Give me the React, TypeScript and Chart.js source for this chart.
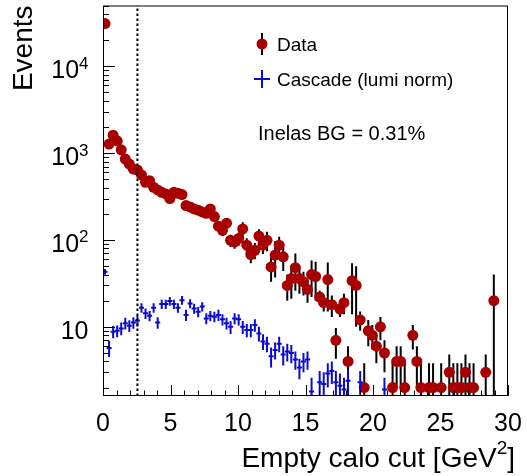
import { useEffect, useRef } from 'react';
import { Chart, registerables } from 'chart.js';

Chart.register(...registerables);

// ---------------- data ----------------
const BIN_WIDTH = 0.3;
const X_MIN = 0;
const X_MAX = 30;
const Y_MIN = 1.6;
const Y_MAX = 50000;
const CUT_VALUE = 2.55;

const xTickValues = [0, 5, 10, 15, 20, 25, 30];
const xTickLabels = ['0', '5', '10', '15', '20', '25', '30'];
const yTickValues = [10, 100, 1000, 10000];
const yTickBases = ['10', '10', '10', '10'];
const yTickExps = ['', '2', '3', '4'];

const xTitleMain = 'Empty calo cut [GeV';
const xTitleSup = '2';
const xTitleEnd = ']';
const yTitle = 'Events';
const dataLabel = 'Data';
const cascadeLabel = 'Cascade (lumi norm)';
const noteText = 'Inelas BG = 0.31%';

// "Data" per 0.3 GeV^2 bin (null = empty bin)
const dataValues: (number | null)[] = [
  31000, 1270, 1610, 1380, 1090, 853, 748, 656, 639, 560,
  461, 482, 404, 377, 354, 339, 300, 354, 345, 333,
  249, 240, 228, 220, 210, 203, 228, 186, 144, 129,
  156, 99, 95, 104, 134, 87, 68, 76, 111, 87,
  99, 49, 67, 87, 64, 30, 36, 48, 36, 33,
  27, 40, 38, 22, 19, 35, 18, 7, 16, 19,
  4, 34, 30, 12, 2, 9, 8, 6, 10, 5,
  null, 2, 4, 4, 2, null, 8, 4, 2, null,
  2, 2, null, 2, null, 3, 2, 2, 2, 3,
  2, 2, null, null, 3, null, 20, null, null, null,
];
const dataErrors: (number | null)[] = [
  180, 38, 42, 38, 34, 30, 28, 26, 26, 25,
  22, 23, 22, 22, 22, 22, 20, 24, 24, 24,
  20, 20, 20, 20, 20, 20, 22, 20, 18, 18,
  20, 16, 16, 18, 26, 18, 14, 16, 22, 18,
  25, 16, 30, 22, 20, 10, 15, 22, 12, 10,
  8, 18, 18, 4, 4, 20, 5, 2.7, 3, 5,
  2, 20, 20, 3, 1.8, 3, 2.5, 2.2, 3, 2,
  null, 1.8, 2, 2, 1.8, null, 2.5, 2, 1.8, null,
  1.8, 1.8, null, 1.8, null, 1.8, 1.8, 1.8, 1.8, 1.8,
  1.8, 1.8, null, null, 1.8, null, 20, null, null, null,
];

// "Cascade (lumi norm)" per bin
const cascadeValues: (number | null)[] = [
  43, 5.7, 8.8, 9.0, 9.6, 11, 10.3, 11.2, 11.8, 16.6,
  14.3, 13.4, 16.6, 11.2, 18.3, 18.3, 19.8, 18.3, 16.6, 20.3,
  13.7, 18.6, 16.3, 14.9, 17.1, 12.5, 13.4, 13.1, 13.7, 12.2,
  11, 10, 12.5, 12.2, 10, 9.2, 9.2, 10.5, 8.4, 6.8,
  6.4, 4.6, 5.4, 6.4, 4.8, 5.2, 5.0, 4.2, 3.4, 4.0,
  4.2, 1.8, null, 2.3, 2.2, 2.9, 3.1, 2.3, 2.1, 1.9,
  2.4, null, null, 2.3, null, null, null, null, null, 1.9,
];
const cascadeErrors: (number | null)[] = [
  3.2, 1.2, 1.4, 1.4, 1.6, 1.7, 1.6, 1.7, 1.7, 2.1,
  2.0, 1.8, 2.1, 1.7, 2.2, 2.2, 2.3, 2.2, 2.1, 2.3,
  2.0, 2.2, 2.1, 2.0, 2.1, 1.8, 1.8, 1.8, 2.0, 1.8,
  1.7, 1.7, 1.8, 1.8, 1.7, 1.6, 1.6, 1.7, 1.6, 1.4,
  1.3, 1.2, 1.2, 1.3, 1.2, 1.2, 1.2, 1.0, 0.9, 1.0,
  1.0, 0.8, null, 0.8, 0.8, 0.9, 0.9, 0.8, 0.8, 0.7,
  0.8, null, null, 0.8, null, null, null, null, null, 0.7,
];

// ---------------- style ----------------
const RED = '#a80000';
const BLUE = '#0a0ad0';
const FONT = "'Liberation Sans', Arial, Helvetica, sans-serif";

type Pt = { x: number; y: number; e: number };

function toPoints(vals: (number | null)[], errs: (number | null)[]): Pt[] {
  const out: Pt[] = [];
  vals.forEach((v, i) => {
    if (v === null || v === undefined) return;
    out.push({ x: X_MIN + (i + 0.5) * BIN_WIDTH, y: v, e: errs[i] ?? 0 });
  });
  return out;
}

const rootPlugin = {
  id: 'rootStyle',
  beforeDatasetsDraw(chart: any) {
    const { ctx, chartArea: a, scales } = chart;
    const xs = scales.x;
    const ys = scales.y;
    const pts: Pt[] = chart.data.datasets[0].data;
    ctx.save();
    ctx.beginPath();
    ctx.rect(a.left, a.top, a.right - a.left, a.bottom - a.top);
    ctx.clip();
    ctx.strokeStyle = '#000';
    ctx.lineWidth = 2;
    pts.forEach((p) => {
      const px = xs.getPixelForValue(p.x);
      const hi = ys.getPixelForValue(p.y + p.e);
      const lo = p.y - p.e > 0 ? ys.getPixelForValue(p.y - p.e) : a.bottom + 5;
      ctx.beginPath();
      ctx.moveTo(px, Math.min(lo, a.bottom + 5));
      ctx.lineTo(px, hi);
      ctx.stroke();
    });
    ctx.restore();
  },
  afterDatasetsDraw(chart: any) {
    const { ctx, chartArea: a, scales } = chart;
    const xs = scales.x;
    const ys = scales.y;
    const pts: Pt[] = chart.data.datasets[1].data;
    ctx.save();
    ctx.beginPath();
    ctx.rect(a.left, a.top, a.right - a.left, a.bottom - a.top);
    ctx.clip();
    ctx.strokeStyle = BLUE;
    ctx.lineWidth = 2;
    pts.forEach((p) => {
      const px = xs.getPixelForValue(p.x);
      const x0 = xs.getPixelForValue(p.x - BIN_WIDTH / 2);
      const x1 = xs.getPixelForValue(p.x + BIN_WIDTH / 2);
      const py = ys.getPixelForValue(p.y);
      const hi = ys.getPixelForValue(p.y + p.e);
      const lo = p.y - p.e > 0 ? ys.getPixelForValue(p.y - p.e) : a.bottom + 5;
      ctx.beginPath();
      ctx.moveTo(px, lo);
      ctx.lineTo(px, hi);
      ctx.moveTo(x0 - 0.5, py);
      ctx.lineTo(x1 + 0.5, py);
      ctx.stroke();
    });
    // dotted cut line
    const cx = xs.getPixelForValue(CUT_VALUE);
    ctx.strokeStyle = '#000';
    ctx.lineWidth = 2;
    ctx.setLineDash([2.5, 2.5]);
    ctx.beginPath();
    ctx.moveTo(cx, a.bottom);
    ctx.lineTo(cx, a.top);
    ctx.stroke();
    ctx.setLineDash([]);
    ctx.restore();
  },
  afterDraw(chart: any) {
    const { ctx, chartArea: a, scales } = chart;
    const xs = scales.x;
    const ys = scales.y;
    ctx.save();
    // frame
    ctx.strokeStyle = '#000';
    ctx.lineWidth = 1;
    ctx.strokeRect(a.left + 0.5, a.top + 0.5, a.right - a.left - 1, a.bottom - a.top - 1);

    // x ticks (inward)
    ctx.beginPath();
    for (let v = Math.ceil(X_MIN); v <= X_MAX; v += 1) {
      const px = Math.round(xs.getPixelForValue(v)) + 0.5;
      const len = v % 5 === 0 ? 11 : 5.5;
      ctx.moveTo(px, a.bottom);
      ctx.lineTo(px, a.bottom - len);
    }
    // y ticks (log, inward)
    for (let dec = 1; dec <= 10000; dec *= 10) {
      for (let m = 1; m <= 9; m++) {
        const v = dec * m;
        if (v < Y_MIN || v > Y_MAX) continue;
        const py = Math.round(ys.getPixelForValue(v)) + 0.5;
        const len = m === 1 ? 12 : 6;
        ctx.moveTo(a.left, py);
        ctx.lineTo(a.left + len, py);
      }
    }
    ctx.stroke();

    ctx.fillStyle = '#000';
    // x tick labels
    ctx.font = `25px ${FONT}`;
    ctx.textAlign = 'center';
    ctx.textBaseline = 'alphabetic';
    xTickValues.forEach((v, i) => {
      ctx.fillText(xTickLabels[i], xs.getPixelForValue(v), 431);
    });

    // y tick labels with superscripts
    const rightEdge = a.left - 14.5;
    yTickValues.forEach((v, i) => {
      const py = ys.getPixelForValue(v);
      const base = yTickBases[i];
      const exp = yTickExps[i];
      ctx.textAlign = 'left';
      ctx.font = `17px ${FONT}`;
      const ew = exp ? ctx.measureText(exp).width : 0;
      ctx.font = `25px ${FONT}`;
      const bw = ctx.measureText(base).width;
      const bx = rightEdge - ew - bw;
      ctx.fillText(base, bx, py + 12);
      if (exp) {
        ctx.font = `17px ${FONT}`;
        ctx.fillText(exp, bx + bw, py + 2.5);
      }
    });

    // x title
    ctx.font = `28px ${FONT}`;
    const w1 = ctx.measureText(xTitleMain).width;
    const w3 = ctx.measureText(xTitleEnd).width;
    ctx.font = `19px ${FONT}`;
    const w2 = ctx.measureText(xTitleSup).width;
    const tRight = a.right + 7;
    const tStart = tRight - w1 - w2 - w3;
    ctx.textAlign = 'left';
    ctx.font = `28px ${FONT}`;
    ctx.fillText(xTitleMain, tStart, 467);
    ctx.fillText(xTitleEnd, tStart + w1 + w2, 467);
    ctx.font = `19px ${FONT}`;
    ctx.fillText(xTitleSup, tStart + w1, 454);

    // y title
    ctx.save();
    ctx.translate(32, a.top);
    ctx.rotate(-Math.PI / 2);
    ctx.font = `28px ${FONT}`;
    ctx.textAlign = 'right';
    ctx.fillText(yTitle, 0, 0);
    ctx.restore();

    // legend
    const lx = 262;
    const ly1 = 44;
    const ly2 = 79;
    ctx.strokeStyle = '#000';
    ctx.lineWidth = 2;
    ctx.beginPath();
    ctx.moveTo(lx, ly1 - 11);
    ctx.lineTo(lx, ly1 + 11);
    ctx.stroke();
    ctx.fillStyle = RED;
    ctx.beginPath();
    ctx.arc(lx, ly1, 5.5, 0, Math.PI * 2);
    ctx.fill();
    ctx.strokeStyle = BLUE;
    ctx.beginPath();
    ctx.moveTo(lx, ly2 - 9);
    ctx.lineTo(lx, ly2 + 9);
    ctx.moveTo(lx - 8, ly2);
    ctx.lineTo(lx + 8, ly2);
    ctx.stroke();
    ctx.fillStyle = '#000';
    ctx.font = `19px ${FONT}`;
    ctx.textAlign = 'left';
    ctx.fillText(dataLabel, 277, ly1 + 7);
    ctx.fillText(cascadeLabel, 277, ly2 + 7);
    ctx.font = `20px ${FONT}`;
    ctx.fillText(noteText, 258, 140);
    ctx.restore();
  },
};

export default function App() {
  const ref = useRef<HTMLCanvasElement | null>(null);
  useEffect(() => {
    if (!ref.current) return;
    const chart = new Chart(ref.current, {
      type: 'scatter',
      data: {
        datasets: [
          {
            label: dataLabel,
            data: toPoints(dataValues, dataErrors) as any,
            pointRadius: 5.5,
            pointHoverRadius: 5.5,
            pointBackgroundColor: RED,
            backgroundColor: RED,
            borderWidth: 0,
            pointBorderWidth: 0,
          },
          {
            label: cascadeLabel,
            data: toPoints(cascadeValues, cascadeErrors) as any,
            pointRadius: 0,
            pointHoverRadius: 0,
            backgroundColor: BLUE,
            borderWidth: 0,
          },
        ],
      },
      options: {
        responsive: false,
        animation: false,
        events: [],
        layout: { padding: { top: 4, right: 19, left: 0, bottom: 0 } },
        plugins: { legend: { display: false }, tooltip: { enabled: false } },
        scales: {
          x: {
            type: 'linear',
            min: X_MIN,
            max: X_MAX,
            grid: { display: false },
            border: { display: false },
            ticks: { display: false },
            afterFit: (s: any) => {
              s.height = 80;
            },
          },
          y: {
            type: 'logarithmic',
            min: Y_MIN,
            max: Y_MAX,
            grid: { display: false },
            border: { display: false },
            ticks: { display: false },
            afterFit: (s: any) => {
              s.width = 103;
            },
          },
        },
      },
      plugins: [rootPlugin],
    });
    return () => chart.destroy();
  }, []);
  return (
    <div style={{ position: 'absolute', left: 0, top: 0, width: 527, height: 476, background: '#fff' }}>
      <canvas ref={ref} width={527} height={476} style={{ display: 'block' }} />
    </div>
  );
}
